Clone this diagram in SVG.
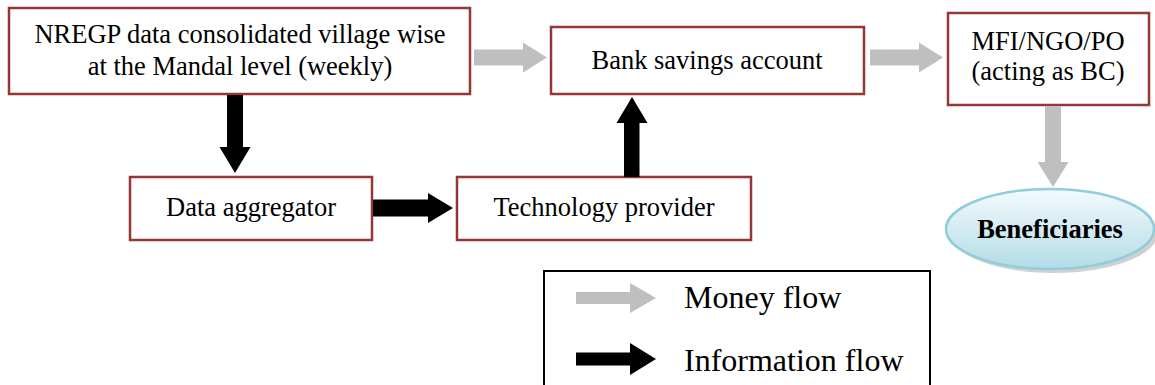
<svg xmlns="http://www.w3.org/2000/svg" width="1155" height="385" viewBox="0 0 1155 385">
<style>
.box{fill:#fff;stroke:#953735;stroke-width:2.5}
.t{font-family:"Liberation Serif","Times New Roman",serif;font-size:26.5px;fill:#000;text-anchor:middle}
.lt{font-family:"Liberation Serif","Times New Roman",serif;font-size:32px;fill:#000}
.money{fill:#bfbfbf}
.info{fill:#000}
</style>
<defs>
<linearGradient id="eg" x1="0" y1="0" x2="0" y2="1">
<stop offset="0" stop-color="#f3fafc"/>
<stop offset="1" stop-color="#b4dce7"/>
</linearGradient>
</defs>
<rect width="1155" height="385" fill="#fff"/>
<g id="nregp">
<rect class="box" x="9" y="8" width="461" height="86"/>
<text class="t" x="240" y="43">NREGP data consolidated village wise</text>
<text class="t" x="240" y="75">at the Mandal level (weekly)</text>
</g>
<g id="bank">
<rect class="box" x="551" y="27" width="313" height="67"/>
<text class="t" x="707" y="69">Bank savings account</text>
</g>
<g id="mfi">
<rect class="box" x="948" y="13" width="201" height="92"/>
<text class="t" x="1048" y="50">MFI/NGO/PO</text>
<text class="t" x="1048" y="80">(acting as BC)</text>
</g>
<g id="aggregator">
<rect class="box" x="130" y="177" width="242" height="63"/>
<text class="t" x="251" y="216">Data aggregator</text>
</g>
<g id="tech">
<rect class="box" x="457" y="177" width="294" height="63"/>
<text class="t" x="604" y="216">Technology provider</text>
</g>
<g id="beneficiaries">
<ellipse cx="1054" cy="233" rx="104" ry="40" fill="#9a9a9a" opacity="0.45"/>
<ellipse cx="1050" cy="229" rx="104" ry="40" fill="url(#eg)" stroke="#92cddc" stroke-width="2.5"/>
<text class="t" x="1050" y="238" font-weight="bold">Beneficiaries</text>
</g>
<g id="connectors">
<path class="money" d="M474 49.5H523V42.5L547 57.5L523 72.5V65.5H474Z"/>
<path class="money" d="M870 49.5H919V42.5L943 57.5L919 72.5V65.5H870Z"/>
<path class="money" d="M1045 106H1061V162H1068.5L1053 187L1037.5 162H1045Z"/>
<path class="info" d="M227 95H243V147H250.5L235 173L219.5 147H227Z"/>
<path class="info" d="M373 199.5H428V193L453 208L428 223V216.5H373Z"/>
<path class="info" d="M624 177V123H616.5L632 97L647.5 123H639.5V177Z"/>
</g>
<g id="legend">
<rect x="544" y="271" width="386" height="120" fill="#fff" stroke="#000" stroke-width="2"/>
<path class="money" d="M576 292H630V283L656 298L630 313V304H576Z"/>
<path class="info" d="M576 352.5H630V343L656 359L630 375V365.5H576Z"/>
<text class="lt" x="684" y="308">Money flow</text>
<text class="lt" x="684" y="371">Information flow</text>
</g>
</svg>
